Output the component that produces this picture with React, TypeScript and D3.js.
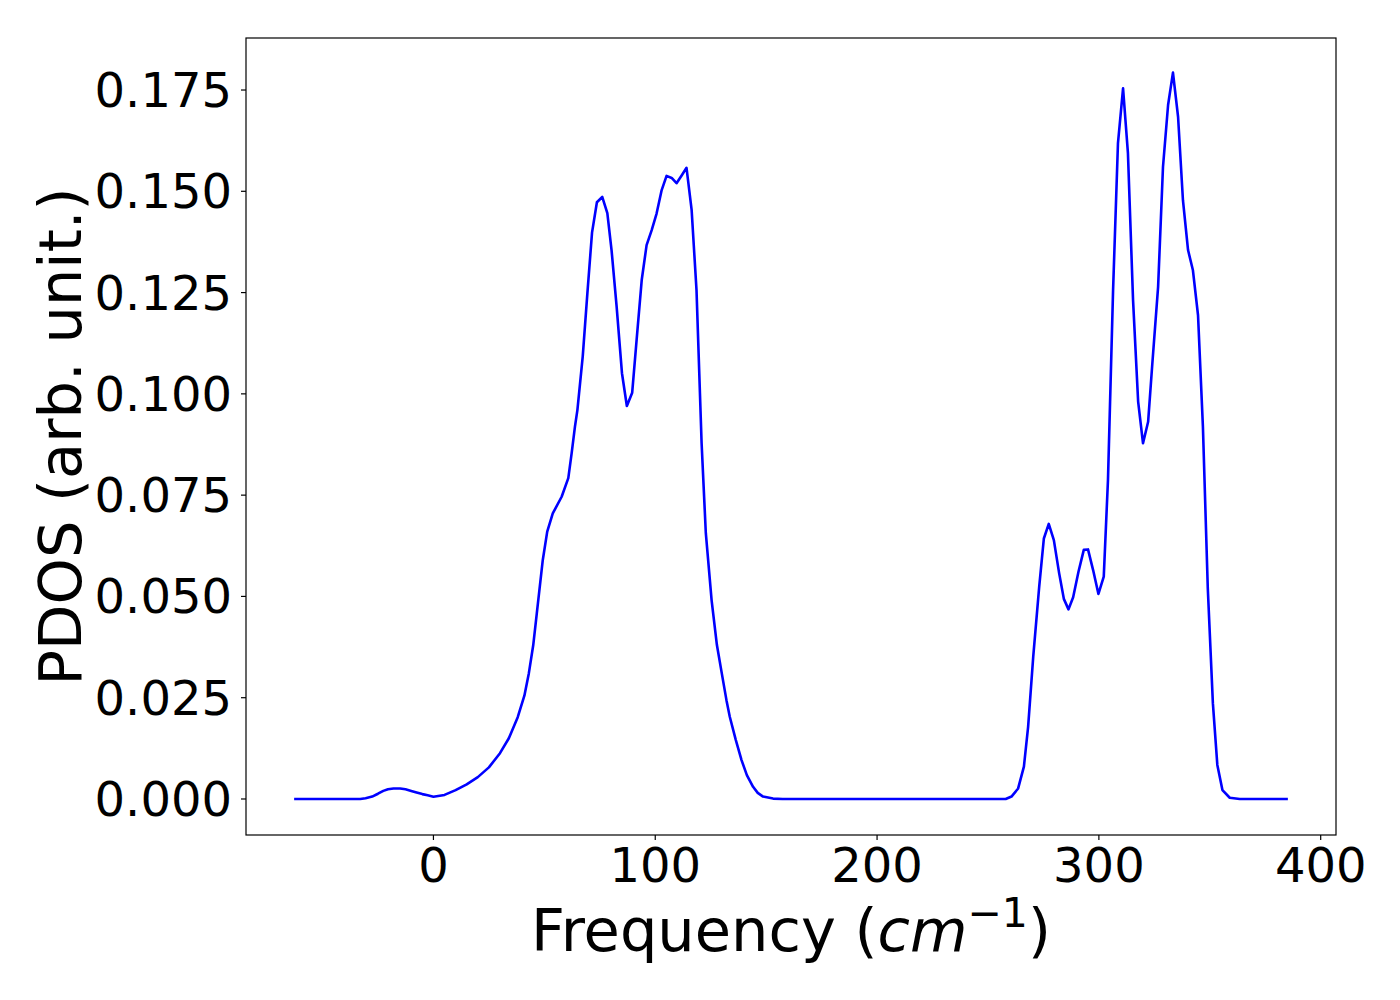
import React from 'react';
import * as d3 from 'd3';

// Frequency (cm^-1) and PDOS
const freqs = [
  -62.8, -33.0, -30.6, -27.6, -25.0, -22.6, -20.5, -18.0, -15.0, -12.6, -10.0, -7.6, -5.0, -2.6, 0.0,
  5.0, 10.0, 15.0, 20.0, 25.0, 30.0, 34.0, 38.0, 41.0, 43.0, 45.0, 46.6, 49.3, 51.3, 53.8, 57.8,
  60.8, 62.3, 63.8, 64.9, 67.3, 69.4,
  71.5, 73.7, 76.1, 78.4, 80.3, 82.6, 85.0, 87.2, 89.6, 91.6, 93.9, 96.1, 98.4, 100.6, 102.9,
  105.1, 107.4, 109.6, 111.9, 114.1, 116.4, 118.6, 120.9, 122.8, 125.4, 127.8, 130.0, 132.1,
  133.6, 136.3, 138.9, 141.3, 144.1, 146.2, 148.6, 153.1, 157.4,
  258.0, 260.6, 263.6, 266.2, 268.1, 270.4, 273.1, 275.2, 277.4, 279.7, 282.1, 284.2, 286.3,
  288.4, 290.8, 293.2, 295.1, 297.4, 299.8, 302.2, 304.1, 306.4, 308.6, 310.9, 313.1, 315.4,
  317.7, 319.9, 322.2, 324.1, 326.7, 328.9, 331.2, 333.4, 335.7, 337.9, 340.2, 342.4, 344.7,
  346.9, 349.1, 351.4, 353.4, 355.7, 359.0, 363.5, 385.2,
];

const pdos = [
  0, 0, 0.0002, 0.0006, 0.0013, 0.002, 0.0024, 0.0026, 0.0026, 0.0024, 0.002, 0.0016, 0.0012, 0.0009, 0.00057,
  0.001, 0.0022, 0.0036, 0.0054, 0.0078, 0.0113, 0.015, 0.0202, 0.0255, 0.031, 0.038, 0.0458, 0.059, 0.066, 0.0705, 0.0746,
  0.0792, 0.0853, 0.0919, 0.096, 0.1092, 0.1248,
  0.1398, 0.1473, 0.1486, 0.1446, 0.1355, 0.1215, 0.1051, 0.097, 0.1003, 0.1133, 0.1281, 0.1367, 0.1404, 0.1445, 0.1503,
  0.1538, 0.1533, 0.152, 0.1539, 0.1558, 0.1454, 0.1256, 0.0878, 0.0656, 0.0491, 0.038, 0.031, 0.0244,
  0.0203, 0.0146, 0.0096, 0.0059, 0.003, 0.0015, 0.0006, 0.0001, 0,
  0, 0.0006, 0.0026, 0.008, 0.0178, 0.0351, 0.0524, 0.0643, 0.0679, 0.0639, 0.0557, 0.0494, 0.0468,
  0.0498, 0.0561, 0.0615, 0.0616, 0.0565, 0.0506, 0.0549, 0.0787, 0.1256, 0.1618, 0.1754, 0.1594, 0.1232,
  0.0981, 0.0878, 0.0931, 0.1075, 0.1264, 0.156, 0.1713, 0.1793, 0.1684, 0.1478, 0.1355, 0.1305, 0.1194,
  0.0919, 0.052, 0.0236, 0.0084, 0.0022, 0.0003, 0, 0,
];

const xTicks = [0, 100, 200, 300, 400];
const yTicks = [0, 0.025, 0.05, 0.075, 0.1, 0.125, 0.15, 0.175];

const W = 1400;
const H = 1000;
const plot = { left: 246, right: 1336, top: 38, bottom: 835 };
const font = 'DejaVu Sans, sans-serif';

const App = () => {
  const x = d3.scaleLinear().domain([-84.5, 406.9]).range([plot.left, plot.right]);
  const y = d3.scaleLinear().domain([-0.00889, 0.18784]).range([plot.bottom, plot.top]);

  const points = freqs.map((f, i) => [f, pdos[i]] as [number, number]);
  const line = d3.line<[number, number]>()
    .x(d => x(d[0]))
    .y(d => y(d[1]));

  return (
    <div style={{ position: 'absolute', left: 0, top: 0 }}>
      <svg width={W} height={H} style={{ display: 'block', background: '#fff' }}>
        <path
          d={line(points) || ''}
          fill="none"
          stroke="#0000ff"
          strokeWidth={2.6}
          strokeLinejoin="round"
        />

        {/* frame */}
        <rect
          x={plot.left}
          y={plot.top}
          width={plot.right - plot.left}
          height={plot.bottom - plot.top}
          fill="none"
          stroke="#000"
          strokeWidth={1.2}
        />

        {/* x axis */}
        {xTicks.map(t => (
          <g key={'x' + t}>
            <line x1={x(t)} x2={x(t)} y1={plot.bottom} y2={plot.bottom + 5} stroke="#000" strokeWidth={1.2} />
            <text x={x(t)} y={plot.bottom + 47} textAnchor="middle" fontFamily={font} fontSize={48}>
              {t}
            </text>
          </g>
        ))}

        {/* y axis */}
        {yTicks.map(t => (
          <g key={'y' + t}>
            <line x1={plot.left - 5} x2={plot.left} y1={y(t)} y2={y(t)} stroke="#000" strokeWidth={1.2} />
            <text x={plot.left - 14} y={y(t) + 17} textAnchor="end" fontFamily={font} fontSize={48}>
              {t.toFixed(3)}
            </text>
          </g>
        ))}

        <text
          x={(plot.left + plot.right) / 2}
          y={951}
          textAnchor="middle"
          fontFamily={font}
          fontSize={59}
        >
          Frequency (<tspan fontStyle="italic">cm</tspan>
          <tspan dy={-24} fontSize={41}>−1</tspan>
          <tspan dy={24}>)</tspan>
        </text>

        <text
          transform={`translate(81, ${(plot.top + plot.bottom) / 2}) rotate(-90)`}
          textAnchor="middle"
          fontFamily={font}
          fontSize={59}
        >
          PDOS (arb. unit.)
        </text>
      </svg>
    </div>
  );
};

export default App;
